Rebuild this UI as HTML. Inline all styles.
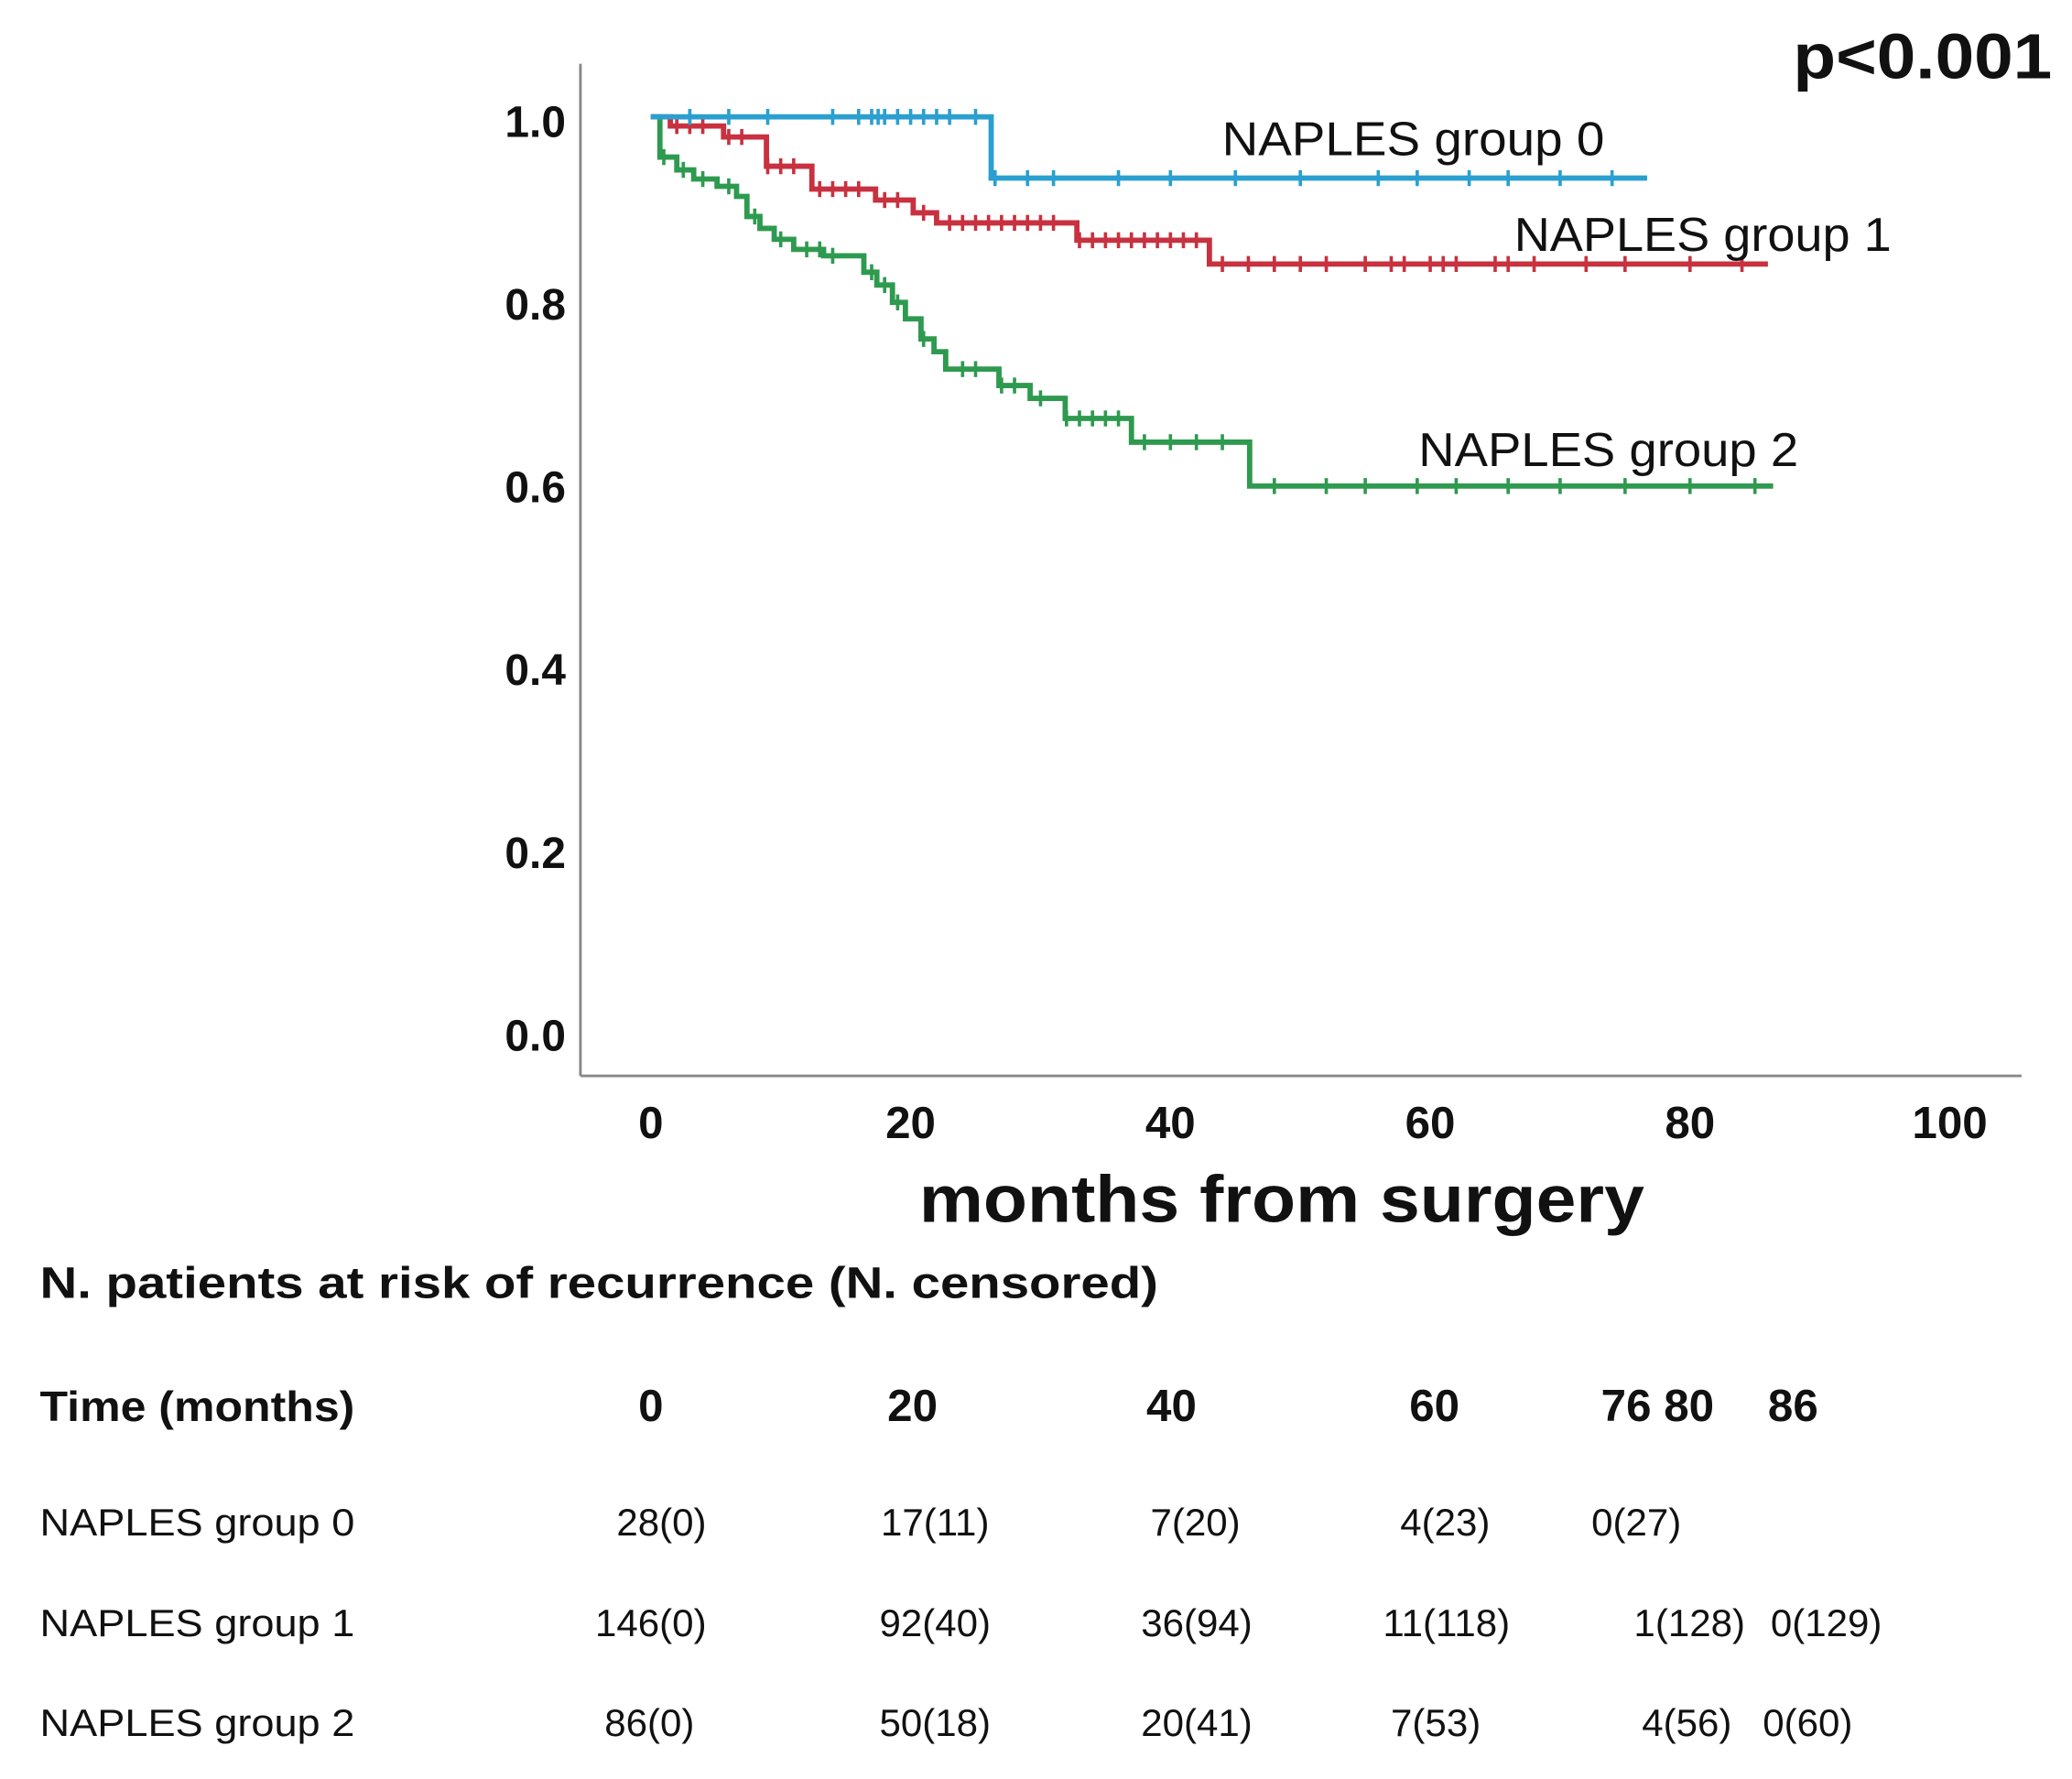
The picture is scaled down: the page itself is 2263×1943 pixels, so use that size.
<!DOCTYPE html>
<html><head><meta charset="utf-8"><style>
html,body{margin:0;padding:0;background:#fff;}
svg{display:block;}
text{font-family:"Liberation Sans",Arial,sans-serif;}
</style></head><body>
<svg id="chart" width="2263" height="1943" viewBox="0 0 1560 1339.4" preserveAspectRatio="none" xmlns="http://www.w3.org/2000/svg">
<g id="axes"></g>
<g id="curves"></g>
<g id="labels"></g>
<g id="table"></g>
</svg>
<script>
// ---- data ----
const xTicks = [0,20,40,60,80,100];
const yTicks = [0.0,0.2,0.4,0.6,0.8,1.0];
const g0Times = [0, 26.2, 76.7];
const g0Surv  = [1.0, 0.933, 0.933];
const g0Cens  = [3,6,9,14,16,17,17.5,18,19,20,21,22,23,25,26.5,29,31,36,40,45,50,56,59,63,66,70,74];
const g1Times = [0, 1.5, 5.6, 8.9, 12.4, 17.3, 20.2, 22.0, 32.8, 43.0, 86.0];
const g1Surv  = [1.0, 0.990, 0.978, 0.946, 0.921, 0.909, 0.895, 0.884, 0.865, 0.839, 0.839];
const g1Cens  = [2,3,4,6,7,9,10,11,13,14,15,16,18,19,21,23,24,25,26,27,28,29,30,31,33,34,35,36,37,38,39,40,41,42,44,46,48,50,52,55,57,58,60,61,62,65,66,68,72,75,80,84];
const g2Times = [0, 0.7, 2.0, 3.3, 5.1, 6.6, 7.4, 8.4, 9.5, 11.0, 13.3, 16.4, 17.4, 18.6, 19.6, 20.8, 21.8, 22.7, 26.8, 29.2, 31.9, 37.0, 46.1, 86.4];
const g2Surv  = [1.0, 0.956, 0.942, 0.932, 0.924, 0.913, 0.891, 0.878, 0.866, 0.855, 0.848, 0.830, 0.816, 0.797, 0.779, 0.757, 0.743, 0.724, 0.706, 0.692, 0.670, 0.644, 0.596, 0.596];
const g2Cens  = [1,2.5,4,6,8,10,12,13,14,17,18,19,21,24,25,27,28,30,32,33,34,35,36,38,40,42,44,48,52,55,59,62,66,70,75,80,85];
const tableTimes = ["0","20","40","60","76 80","86"];
const row0 = ["28(0)","17(11)","7(20)","4(23)","0(27)"];
const row1 = ["146(0)","92(40)","36(94)","11(118)","1(128)","0(129)"];
const row2 = ["86(0)","50(18)","20(41)","7(53)","4(56)","0(60)"];

// ---- scales ----
const X = m => 490 + m*9.78;
const Y = v => 776 - v*688;
const NS = "http://www.w3.org/2000/svg";
function mk(tag, parent, attrs, txt){
  const e = document.createElementNS(NS, tag);
  for (const k in attrs) e.setAttribute(k, attrs[k]);
  if (txt !== undefined) e.textContent = txt;
  parent.appendChild(e); return e;
}
const axes = document.getElementById('axes');
const curves = document.getElementById('curves');
const labels = document.getElementById('labels');
const table = document.getElementById('table');

let yAxis = mk('line', axes, {x1:437,y1:48,x2:437,y2:810,stroke:'#888','stroke-width':2});


let xAxis = mk('line', axes, {x1:437,y1:810,x2:1522,y2:810,stroke:'#888','stroke-width':2});


xTicks.forEach(t => {
  const e = mk('text', axes, {x:X(t), y:857, 'text-anchor':'middle','font-size':34,'font-weight':'bold',fill:'#111'}, String(t));
  
  
});
yTicks.forEach(t => {
  const e = mk('text', axes, {x:426, y:Y(t)+15, 'text-anchor':'end','font-size':33,'font-weight':'bold',fill:'#111'}, t.toFixed(1));
  
  
});

function drawCurve(times, surv, cens, color, name){
  let d = `M${X(times[0])},${Y(surv[0])}`;
  for (let i=1;i<times.length;i++){
    d += ` H${X(times[i])} V${Y(surv[i])}`;
  }
  const p = mk('path', curves, {d:d, fill:'none', stroke:color, 'stroke-width':4});
  
  
  cens.forEach(c => {
    let v = surv[0];
    for (let i=0;i<times.length;i++) if (times[i] <= c) v = surv[i];
    const m = mk('line', curves, {x1:X(c),y1:Y(v)-6,x2:X(c),y2:Y(v)+6,stroke:color,'stroke-width':2.5});
    
    
  });
}
drawCurve(g2Times, g2Surv, g2Cens, '#2e9a4f', 'group-2');
drawCurve(g1Times, g1Surv, g1Cens, '#c8313f', 'group-1');
drawCurve(g0Times, g0Surv, g0Cens, '#2a9fd0', 'group-0');

function txt(parent, x, y, s, size, weight, anchor, name, len){
  const a = {x:x, y:y, 'font-size':size, 'font-weight':weight, 'text-anchor':anchor, fill:'#111'};
  if (len) { a.textLength = len; a.lengthAdjust = 'spacingAndGlyphs'; }
  const e = mk('text', parent, a, s);
  
  
  return e;
}
txt(labels, 920, 117, 'NAPLES group 0', 36, 'normal', 'start', 'label-group-0', 288);
txt(labels, 1140, 189, 'NAPLES group 1', 36, 'normal', 'start', 'label-group-1', 284);
txt(labels, 1068, 351, 'NAPLES group 2', 36, 'normal', 'start', 'label-group-2', 286);
txt(labels, 1350, 59, 'p<0.001', 48, 'bold', 'start', 'p-value', 195);
txt(labels, 692, 920, 'months from surgery', 50, 'bold', 'start', 'x-axis-title', 546);

txt(table, 30, 977, 'N. patients at risk of recurrence (N. censored)', 33, 'bold', 'start', 'risk-table-title', 842);
txt(table, 30, 1070, 'Time (months)', 32, 'bold', 'start', 'time-header', 237);
const hdrX = [490, 687, 882, 1080, 1248, 1350];
tableTimes.forEach((t,i) => txt(table, hdrX[i], 1070, t, 34, 'bold', 'middle', 'time-column-header'));
const rowY = [1156, 1232, 1307];
const rowNames = ['NAPLES  group 0','NAPLES  group 1','NAPLES  group 2'];
const rowX = [[498,704,900,1088,1232],[490,704,901,1089,1272,1375],[489,704,901,1081,1270,1361]];
[row0,row1,row2].forEach((row,r) => {
  txt(table, 30, rowY[r], rowNames[r], 29, 'normal', 'start', 'row-label-group-'+r, 237);
  row.forEach((v,i) => txt(table, rowX[r][i], rowY[r], v, 29, 'normal', 'middle', 'risk-cell'));
});
</script>
</body></html>
